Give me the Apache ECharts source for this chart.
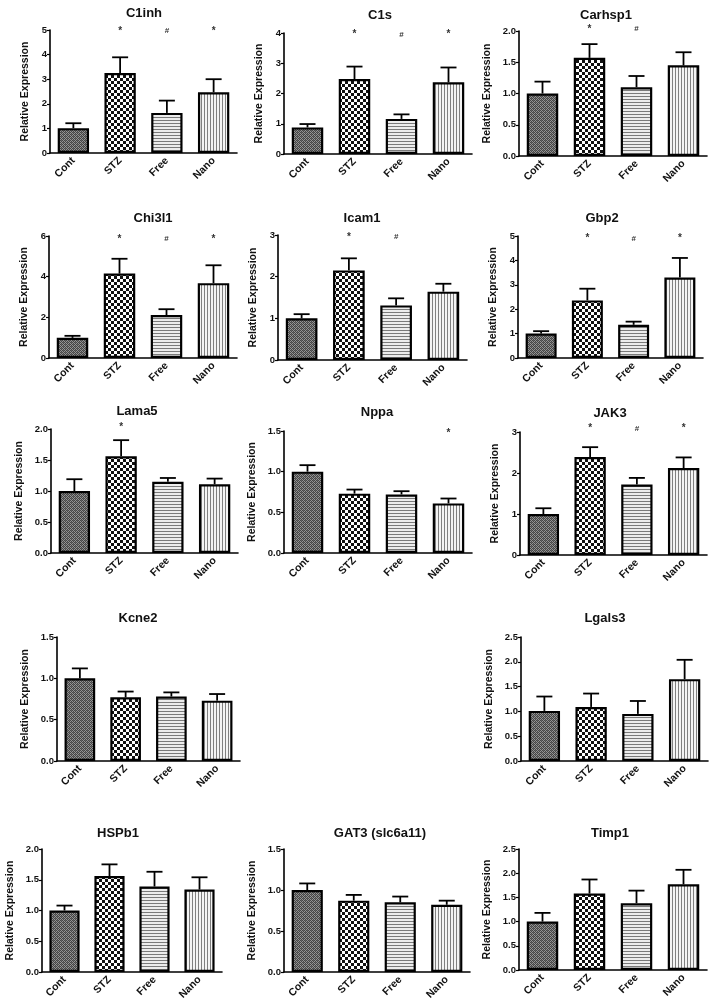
<!DOCTYPE html>
<html><head><meta charset="utf-8">
<script src="https://cdn.jsdelivr.net/npm/echarts@6/dist/echarts.min.js"></script>
<style>html,body{margin:0;padding:0;background:#fff}#c{width:713px;height:1005px}</style>
</head><body><div id="c"></div>
<script>
// ---------- DATA ----------
const categories = ['Cont', 'STZ', 'Free', 'Nano'];

const c1inhMean = [1.01, 3.25, 1.63, 2.47];
const c1inhErr  = [1.21, 3.89, 2.13, 3.00];
const c1inhSig  = ['', '*', '#', '*'];

const c1sMean = [0.88, 2.48, 1.16, 2.37];
const c1sErr  = [0.99, 2.89, 1.31, 2.86];
const c1sSig  = ['', '*', '#', '*'];

const carhsp1Mean = [1.00, 1.57, 1.10, 1.45];
const carhsp1Err  = [1.19, 1.79, 1.28, 1.66];
const carhsp1Sig  = ['', '*', '#', ''];

const chi3l1Mean = [0.99, 4.15, 2.11, 3.68];
const chi3l1Err  = [1.09, 4.88, 2.40, 4.56];
const chi3l1Sig  = ['', '*', '#', '*'];

const icam1Mean = [1.00, 2.15, 1.31, 1.64];
const icam1Err  = [1.10, 2.44, 1.48, 1.83];
const icam1Sig  = ['', '*', '#', ''];

const gbp2Mean = [1.00, 2.36, 1.36, 3.30];
const gbp2Err  = [1.10, 2.84, 1.49, 4.10];
const gbp2Sig  = ['', '*', '#', '*'];

const lama5Mean = [1.00, 1.56, 1.15, 1.11];
const lama5Err  = [1.19, 1.82, 1.21, 1.20];
const lama5Sig  = ['', '*', '', ''];

const nppaMean = [1.00, 0.73, 0.72, 0.61];
const nppaErr  = [1.08, 0.78, 0.76, 0.67];
const nppaSig  = ['', '', '', '*'];

const jak3Mean = [1.00, 2.39, 1.72, 2.12];
const jak3Err  = [1.14, 2.63, 1.88, 2.38];
const jak3Sig  = ['', '*', '#', '*'];

const kcne2Mean = [1.00, 0.77, 0.78, 0.73];
const kcne2Err  = [1.12, 0.84, 0.83, 0.81];
const kcne2Sig  = ['', '', '', ''];

const lgals3Mean = [1.01, 1.09, 0.95, 1.65];
const lgals3Err  = [1.30, 1.36, 1.21, 2.04];
const lgals3Sig  = ['', '', '', ''];

const hspb1Mean = [1.00, 1.56, 1.39, 1.34];
const hspb1Err  = [1.08, 1.75, 1.63, 1.54];
const hspb1Sig  = ['', '', '', ''];

const gat3Mean = [1.00, 0.87, 0.85, 0.82];
const gat3Err  = [1.08, 0.94, 0.92, 0.87];
const gat3Sig  = ['', '', '', ''];

const timp1Mean = [1.00, 1.58, 1.38, 1.77];
const timp1Err  = [1.18, 1.87, 1.64, 2.07];
const timp1Sig  = ['', '', '', ''];

const titles = ['C1inh', 'C1s', 'Carhsp1', 'Chi3l1', 'Icam1', 'Gbp2', 'Lama5', 'Nppa', 'JAK3', 'Kcne2', 'Lgals3', 'HSPb1', 'GAT3 (slc6a11)', 'Timp1'];
const axisMax = [5, 4, 2.0, 6, 3, 5, 2.0, 1.5, 3, 1.5, 2.5, 2.0, 1.5, 2.5];
const axisInterval = [1, 1, 0.5, 2, 1, 1, 0.5, 0.5, 1, 0.5, 0.5, 0.5, 0.5, 0.5];
const sigLevel = [4.95, 3.95, 2.03, 5.85, 2.95, 4.9, 2.03, 1.47, 3.08, 0, 0, 0, 0, 0];

const means = [c1inhMean, c1sMean, carhsp1Mean, chi3l1Mean, icam1Mean, gbp2Mean, lama5Mean, nppaMean, jak3Mean, kcne2Mean, lgals3Mean, hspb1Mean, gat3Mean, timp1Mean];
const errs = [c1inhErr, c1sErr, carhsp1Err, chi3l1Err, icam1Err, gbp2Err, lama5Err, nppaErr, jak3Err, kcne2Err, lgals3Err, hspb1Err, gat3Err, timp1Err];
const sigs = [c1inhSig, c1sSig, carhsp1Sig, chi3l1Sig, icam1Sig, gbp2Sig, lama5Sig, nppaSig, jak3Sig, kcne2Sig, lgals3Sig, hspb1Sig, gat3Sig, timp1Sig];

// ---------- LAYOUT (pixel boxes: axis x, top tick y, axis right end, zero y, title center) ----------
const layout = [
  {l: 50, t: 30, r: 237, b: 153, tx: 144, ty: 13},
  {l: 284, t: 33, r: 472, b: 154, tx: 380, ty: 15},
  {l: 519, t: 31, r: 707, b: 156, tx: 606, ty: 15},
  {l: 49, t: 236, r: 237, b: 358, tx: 153, ty: 218},
  {l: 278, t: 235, r: 467, b: 360, tx: 362, ty: 218},
  {l: 518, t: 236, r: 703, b: 358, tx: 602, ty: 218},
  {l: 51, t: 429, r: 238, b: 553, tx: 137, ty: 411},
  {l: 284, t: 431, r: 472, b: 553, tx: 377, ty: 412},
  {l: 520, t: 432, r: 707, b: 555, tx: 610, ty: 413},
  {l: 57, t: 637, r: 240, b: 761, tx: 138, ty: 618},
  {l: 521, t: 637, r: 708, b: 761, tx: 605, ty: 618},
  {l: 42, t: 849, r: 222, b: 972, tx: 118, ty: 833},
  {l: 284, t: 849, r: 470, b: 972, tx: 380, ty: 833},
  {l: 519, t: 849, r: 707, b: 970, tx: 610, ty: 833}
];

// ---------- PATTERNS ----------
function makeTile(w, h, draw) {
  const c = document.createElement('canvas'); c.width = w; c.height = h;
  const g = c.getContext('2d'); draw(g); return c;
}
const patCont = makeTile(4, 4, g => {
  g.fillStyle = '#959595'; g.fillRect(0, 0, 4, 4);
  g.fillStyle = '#454545';
  g.fillRect(0, 0, 1, 1); g.fillRect(2, 0, 1, 1); g.fillRect(1, 1, 1, 1); g.fillRect(3, 1, 1, 1);
  g.fillRect(0, 2, 1, 1); g.fillRect(2, 2, 1, 1); g.fillRect(1, 3, 1, 1); g.fillRect(3, 3, 1, 1);
  g.fillStyle = '#666666'; g.fillRect(1, 0, 1, 1); g.fillRect(3, 2, 1, 1);
});
const patSTZ = makeTile(6, 6, g => {
  g.fillStyle = '#ffffff'; g.fillRect(0, 0, 6, 6);
  g.fillStyle = '#111111'; g.fillRect(0, 0, 3, 3); g.fillRect(3, 3, 3, 3);
});
const patFree = makeTile(3, 3, g => {
  g.fillStyle = '#ececec'; g.fillRect(0, 0, 3, 3);
  g.fillStyle = '#7a7a7a'; g.fillRect(0, 0, 3, 1);
});
const patNano = makeTile(3, 3, g => {
  g.fillStyle = '#f4f4f4'; g.fillRect(0, 0, 3, 3);
  g.fillStyle = '#808080'; g.fillRect(0, 0, 1, 3);
});
const patterns = [patCont, patSTZ, patFree, patNano];

// ---------- BUILD OPTION ----------
const FONT = 'Liberation Sans, Arial, sans-serif';
const grid = [], xAxis = [], yAxis = [], series = [], graphic = [];
titles.forEach((name, i) => {
  const L = layout[i];
  grid.push({left: L.l, top: L.t, width: L.r - L.l, height: L.b - L.t, containLabel: false});
  xAxis.push({
    type: 'category', gridIndex: i, data: categories,
    axisLine: {lineStyle: {color: '#000', width: 1.6}},
    axisTick: {alignWithLabel: true, length: 4, lineStyle: {color: '#000', width: 1.2}},
    axisLabel: {rotate: 45, fontFamily: FONT, fontWeight: 'bold', fontSize: 10.5, color: '#111', margin: 6, interval: 0}
  });
  const dec = axisInterval[i] < 1 ? 1 : 0;
  yAxis.push({
    type: 'value', gridIndex: i, min: 0, max: axisMax[i], interval: axisInterval[i],
    name: 'Relative Expression', nameLocation: 'middle', nameRotate: 90, nameGap: dec ? 26 : 19,
    nameTextStyle: {fontFamily: FONT, fontWeight: 'bold', fontSize: 10.5, color: '#111'},
    axisLine: {show: true, lineStyle: {color: '#000', width: 1.6}},
    axisTick: {show: true, length: 3, lineStyle: {color: '#000', width: 1.2}},
    splitLine: {show: false},
    axisLabel: {fontFamily: FONT, fontWeight: 'bold', fontSize: 9.5, color: '#111', margin: 3,
      formatter: v => v.toFixed(dec)}
  });
  series.push({
    type: 'bar', xAxisIndex: i, yAxisIndex: i, barWidth: '67%',
    data: means[i].map((v, k) => ({value: v, itemStyle: {color: {image: patterns[k], repeat: 'repeat'}}})),
    itemStyle: {borderColor: '#000', borderWidth: 2.2},
    silent: true, animation: false, z: 2
  });
  const errData = means[i].map((v, k) => [k, v, errs[i][k]]);
  series.push({
    type: 'custom', xAxisIndex: i, yAxisIndex: i, data: errData, silent: true, animation: false, z: 3,
    renderItem: (params, api) => {
      const p0 = api.coord([api.value(0), api.value(1)]);
      const p1 = api.coord([api.value(0), api.value(2)]);
      const st = {stroke: '#000', lineWidth: 1.8};
      return {type: 'group', children: [
        {type: 'line', shape: {x1: p0[0], y1: p0[1], x2: p1[0], y2: p1[1]}, style: st},
        {type: 'line', shape: {x1: p1[0] - 8, y1: p1[1], x2: p1[0] + 8, y2: p1[1]}, style: st}
      ]};
    }
  });
  const sigData = sigs[i].map((s, k) => [k, sigLevel[i]]);
  series.push({
    type: 'custom', xAxisIndex: i, yAxisIndex: i, data: sigData, silent: true, animation: false, z: 4,
    renderItem: (params, api) => {
      const s = sigs[i][params.dataIndex];
      if (!s) return null;
      const p = api.coord([api.value(0), api.value(1)]);
      return {type: 'text', style: {x: p[0], y: p[1], text: s, textAlign: 'center', textVerticalAlign: 'middle',
        font: 'bold ' + (s === '*' ? 10 : 8) + 'px ' + FONT, fill: '#333'}};
    }
  });
  graphic.push({type: 'text', x: L.tx, y: L.ty, style: {text: name, textAlign: 'center', textVerticalAlign: 'middle',
    font: 'bold 13px ' + FONT, fill: '#111'}});
});

const chart = echarts.init(document.getElementById('c'), null, {renderer: 'canvas'});
chart.setOption({animation: false, backgroundColor: '#fff', grid, xAxis, yAxis, series, graphic});
</script>
</body></html>
